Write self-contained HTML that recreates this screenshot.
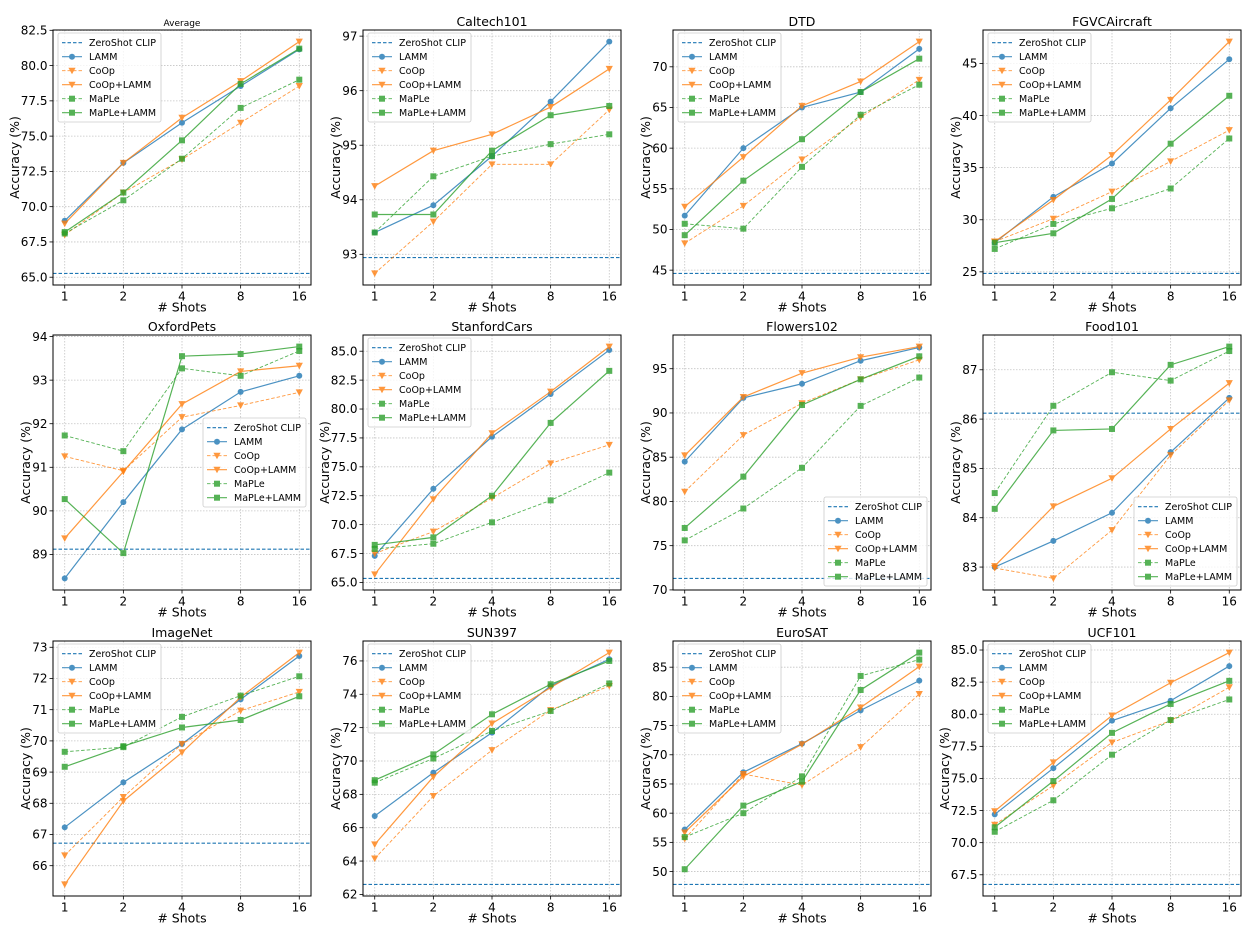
<!DOCTYPE html>
<html><head><meta charset="utf-8">
<style>
html,body{margin:0;padding:0;background:#fff;}
svg{display:block;font-family:"DejaVu Sans","Liberation Sans",sans-serif;}
</style></head>
<body>
<svg id="fig" width="1250" height="933" viewBox="0 0 1250 933" xmlns="http://www.w3.org/2000/svg"></svg>
<script>
const shots = ["1","2","4","8","16"];
const seriesNames = ["ZeroShot CLIP","LAMM","CoOp","CoOp+LAMM","MaPLe","MaPLe+LAMM"];
const panelTitles = ["Average","Caltech101","DTD","FGVCAircraft","OxfordPets","StanfordCars","Flowers102","Food101","ImageNet","SUN397","EuroSAT","UCF101"];
const zeroShot = [65.27,92.94,44.6,24.85,89.12,65.35,71.3,86.12,66.72,62.6,47.8,66.75];

const lamm_avg=[69.0,73.1,75.95,78.55,81.15];
const coop_avg=[68.0,71.0,73.35,75.95,78.55];
const coopl_avg=[68.8,73.1,76.3,78.9,81.7];
const maple_avg=[68.1,70.45,73.4,77.0,79.0];
const maplel_avg=[68.2,71.0,74.7,78.7,81.2];

const lamm_cal=[93.4,93.9,94.8,95.8,96.9];
const coop_cal=[92.65,93.6,94.65,94.65,95.65];
const coopl_cal=[94.25,94.9,95.2,95.7,96.4];
const maple_cal=[93.4,94.43,94.8,95.02,95.2];
const maplel_cal=[93.73,93.73,94.9,95.55,95.72];

const lamm_dtd=[51.7,60.0,65.0,66.9,72.2];
const coop_dtd=[48.3,52.9,58.6,63.8,68.4];
const coopl_dtd=[52.8,58.9,65.2,68.2,73.1];
const maple_dtd=[50.7,50.1,57.7,64.1,67.8];
const maplel_dtd=[49.3,56.0,61.1,66.9,71.0];

const lamm_fgv=[27.8,32.2,35.4,40.7,45.4];
const coop_fgv=[27.9,30.1,32.7,35.6,38.6];
const coopl_fgv=[27.9,31.9,36.2,41.5,47.1];
const maple_fgv=[27.2,29.6,31.1,33.0,37.8];
const maplel_fgv=[27.8,28.7,32.0,37.3,41.9];

const lamm_pet=[88.45,90.2,91.87,92.73,93.1];
const coop_pet=[91.25,90.92,92.15,92.42,92.72];
const coopl_pet=[89.37,90.9,92.45,93.2,93.33];
const maple_pet=[91.73,91.37,93.27,93.1,93.67];
const maplel_pet=[90.27,89.03,93.55,93.6,93.77];

const lamm_car=[67.3,73.1,77.6,81.3,85.1];
const coop_car=[67.5,69.4,72.3,75.3,76.9];
const coopl_car=[65.7,72.2,77.9,81.5,85.4];
const maple_car=[67.9,68.35,70.2,72.1,74.5];
const maplel_car=[68.25,68.9,72.5,78.8,83.3];

const lamm_flo=[84.5,91.7,93.3,95.9,97.4];
const coop_flo=[81.1,87.5,91.1,93.8,96.0];
const coopl_flo=[85.2,91.8,94.5,96.3,97.5];
const maple_flo=[75.6,79.2,83.8,90.8,94.0];
const maplel_flo=[77.0,82.8,90.9,93.8,96.4];

const lamm_foo=[83.0,83.53,84.1,85.33,86.43];
const coop_foo=[82.98,82.77,83.75,85.27,86.38];
const coopl_foo=[83.02,84.23,84.8,85.8,86.73];
const maple_foo=[84.5,86.27,86.95,86.78,87.38];
const maplel_foo=[84.18,85.77,85.8,87.1,87.47];

const lamm_img=[67.23,68.67,69.9,71.33,72.72];
const coop_img=[66.33,68.2,69.9,70.97,71.57];
const coopl_img=[65.4,68.07,69.63,71.4,72.83];
const maple_img=[69.65,69.8,70.77,71.45,72.07];
const maplel_img=[69.17,69.83,70.43,70.67,71.43];

const lamm_sun=[66.7,69.3,71.7,74.5,76.1];
const coop_sun=[64.15,67.9,70.65,73.05,74.5];
const coopl_sun=[65.0,69.05,72.25,74.4,76.5];
const maple_sun=[68.7,70.15,71.8,73.0,74.65];
const maplel_sun=[68.85,70.4,72.8,74.6,76.0];

const lamm_eur=[57.2,67.0,71.9,77.6,82.7];
const coop_eur=[55.6,66.7,64.8,71.3,80.4];
const coopl_eur=[56.7,66.3,71.8,78.1,85.1];
const maple_eur=[55.9,60.0,66.3,83.5,86.3];
const maplel_eur=[50.4,61.3,65.4,81.1,87.5];

const lamm_ucf=[72.2,75.8,79.5,81.05,83.75];
const coop_ucf=[71.4,74.45,77.8,79.5,82.1];
const coopl_ucf=[72.45,76.25,79.9,82.45,84.8];
const maple_ucf=[70.85,73.3,76.85,79.55,81.15];
const maplel_ucf=[71.2,74.8,78.55,80.8,82.6];

const ticks_avg=[65,67.5,70,72.5,75,77.5,80,82.5];
const ticks_cal=[93,94,95,96,97];
const ticks_dtd=[45,50,55,60,65,70];
const ticks_fgv=[25,30,35,40,45];
const ticks_pet=[89,90,91,92,93,94];
const ticks_car=[65,67.5,70,72.5,75,77.5,80,82.5,85];
const ticks_flo=[70,75,80,85,90,95];
const ticks_foo=[83,84,85,86,87];
const ticks_img=[66,67,68,69,70,71,72,73];
const ticks_sun=[62,64,66,68,70,72,74,76];
const ticks_eur=[50,55,60,65,70,75,80,85];
const ticks_ucf=[67.5,70,72.5,75,77.5,80,82.5,85];

const panelSeries=[
 [lamm_avg,coop_avg,coopl_avg,maple_avg,maplel_avg],
 [lamm_cal,coop_cal,coopl_cal,maple_cal,maplel_cal],
 [lamm_dtd,coop_dtd,coopl_dtd,maple_dtd,maplel_dtd],
 [lamm_fgv,coop_fgv,coopl_fgv,maple_fgv,maplel_fgv],
 [lamm_pet,coop_pet,coopl_pet,maple_pet,maplel_pet],
 [lamm_car,coop_car,coopl_car,maple_car,maplel_car],
 [lamm_flo,coop_flo,coopl_flo,maple_flo,maplel_flo],
 [lamm_foo,coop_foo,coopl_foo,maple_foo,maplel_foo],
 [lamm_img,coop_img,coopl_img,maple_img,maplel_img],
 [lamm_sun,coop_sun,coopl_sun,maple_sun,maplel_sun],
 [lamm_eur,coop_eur,coopl_eur,maple_eur,maplel_eur],
 [lamm_ucf,coop_ucf,coopl_ucf,maple_ucf,maplel_ucf]];
const panelTicks=[ticks_avg,ticks_cal,ticks_dtd,ticks_fgv,ticks_pet,ticks_car,ticks_flo,ticks_foo,ticks_img,ticks_sun,ticks_eur,ticks_ucf];
const tickDecimals=[1,0,0,0,0,1,0,0,0,0,0,1];
const legendLoc=["ul","ul","ul","ul","cr","ul","lr","lr","ul","ul","ul","ul"];

const NS="http://www.w3.org/2000/svg";
const fig=document.getElementById("fig");
const colLeft=[53,363,673,983], rowTop=[30,335,641], PW=258, PH=255;
const C_BLUE="#1f77b4", C_OR="#ff7f0e", C_GR="#2ca02c";
const styles=[
 {c:C_BLUE,dash:"3.5,2",w:1.1,m:null,op:1},
 {c:C_BLUE,dash:null,w:1.2,m:"o",op:0.8},
 {c:C_OR,dash:"3.5,2",w:0.9,m:"v",op:0.8},
 {c:C_OR,dash:null,w:1.2,m:"v",op:0.8},
 {c:C_GR,dash:"3.5,2",w:0.9,m:"s",op:0.8},
 {c:C_GR,dash:null,w:1.2,m:"s",op:0.8}];
const slug=s=>s.toLowerCase().replace(/\+/g,"-plus-").replace(/[^a-z0-9]+/g,"-").replace(/-+$/,"");

function mk(tag,attrs,parent){const e=document.createElementNS(NS,tag);for(const k in attrs)e.setAttribute(k,attrs[k]);(parent||fig).appendChild(e);return e;}
function marker(g,type,cx,cy,col){
 let e;
 if(type==="o") e=mk("circle",{cx:cx,cy:cy,r:3,fill:col},g);
 else if(type==="v") e=mk("polygon",{points:`${cx-3.6},${cy-3} ${cx+3.6},${cy-3} ${cx},${cy+3.6}`,fill:col},g);
 else e=mk("rect",{x:cx-3,y:cy-3,width:6,height:6,fill:col},g);
 return e;
}

for(let p=0;p<12;p++){
 const L=colLeft[p%4], T=rowTop[Math.floor(p/4)], R=L+PW, B=T+PH;
 const g=mk("g",{});
 
 
 const all=[zeroShot[p]]; panelSeries[p].forEach(s=>s.forEach(v=>all.push(v)));
 let mn=Math.min(...all), mx=Math.max(...all); const pad=(mx-mn)*0.05; mn-=pad; mx+=pad;
 const xs=i=>L+(i+0.2)/4.4*PW;
 const ys=v=>B-(v-mn)/(mx-mn)*PH;
 shots.forEach((s,i)=>{
  const gl=mk("line",{x1:xs(i),x2:xs(i),y1:T,y2:B,stroke:"#c4c4c4","stroke-width":0.8,"stroke-dasharray":"1.5,1.5"},g);
  
  
  const tm=mk("line",{x1:xs(i),x2:xs(i),y1:B,y2:B+3.5,stroke:"#000","stroke-width":0.8},g);
  
  
  const tl=mk("text",{x:xs(i),y:B+15.5,"text-anchor":"middle","font-size":"12"},g);
  tl.textContent=s;
  
  
 });
 panelTicks[p].forEach(v=>{
  if(v<mn||v>mx) return;
  const y=ys(v);
  const gl=mk("line",{x1:L,x2:R,y1:y,y2:y,stroke:"#c4c4c4","stroke-width":0.8,"stroke-dasharray":"1.5,1.5"},g);
  
  
  const tm=mk("line",{x1:L-3.5,x2:L,y1:y,y2:y,stroke:"#000","stroke-width":0.8},g);
  
  
  const tl=mk("text",{x:L-5.5,y:y+4.2,"text-anchor":"end","font-size":"12"},g);
  tl.textContent=v.toFixed(tickDecimals[p]);
  
  
 });
 const zy=ys(zeroShot[p]);
 const zl=mk("line",{x1:L,x2:R,y1:zy,y2:zy,stroke:C_BLUE,"stroke-width":1.1,"stroke-dasharray":"3.5,2"},g);
 
 
 panelSeries[p].forEach((vals,si)=>{
  const st=styles[si+1];
  const sg=mk("g",{opacity:st.op},g);
  
  
  const pts=vals.map((v,i)=>xs(i)+","+ys(v)).join(" ");
  const pl=mk("polyline",{points:pts,fill:"none",stroke:st.c,"stroke-width":st.w},sg);
  if(st.dash) pl.setAttribute("stroke-dasharray",st.dash);
  
  
  vals.forEach((v,i)=>{
   const m=marker(sg,st.m,xs(i),ys(v),st.c);
   
   
  });
 });
 const fr=mk("rect",{x:L,y:T,width:PW,height:PH,fill:"none",stroke:"#000","stroke-width":1},g);
 
 
 const tt=mk("text",{x:L+PW/2,y:T-4,"text-anchor":"middle","font-size":p===0?"9":"12.5"},g);
 tt.textContent=panelTitles[p];
 
 
 const xl=mk("text",{x:L+PW/2,y:B+26.5,"text-anchor":"middle","font-size":"12.5"},g);
 xl.textContent="# Shots";
 
 
 const off=tickDecimals[p]?38:27;
 const yl=mk("text",{x:0,y:0,"text-anchor":"middle","font-size":"12.5",transform:`translate(${L-off+4},${T+PH/2}) rotate(-90)`},g);
 yl.textContent="Accuracy (%)";
 
 
 const LW=103, LH=89;
 let lx,ly;
 if(legendLoc[p]==="ul"){lx=L+5;ly=T+3;}
 else if(legendLoc[p]==="cr"){lx=R-5-LW;ly=T+PH/2-LH/2;}
 else {lx=R-4-LW;ly=B-4-LH;}
 const lg=mk("g",{},g);
 
 
 mk("rect",{x:lx,y:ly,width:LW,height:LH,rx:2,fill:"#fff","fill-opacity":0.8,stroke:"#ccc","stroke-width":0.8},lg);
 seriesNames.forEach((nm,k)=>{
  const st=styles[k]; const cy=ly+9.7+k*14;
  const eg=mk("g",{},lg);
  
  
  const sg=mk("g",{opacity:st.op},eg);
  const ln=mk("line",{x1:lx+4,x2:lx+24,y1:cy,y2:cy,stroke:st.c,"stroke-width":st.w},sg);
  if(st.dash) ln.setAttribute("stroke-dasharray",st.dash);
  if(st.m) marker(sg,st.m,lx+14,cy,st.c);
  const tx=mk("text",{x:lx+31,y:cy+3.5,"font-size":"9.5"},eg);
  tx.textContent=nm;
 });
}
</script>
</body></html>
